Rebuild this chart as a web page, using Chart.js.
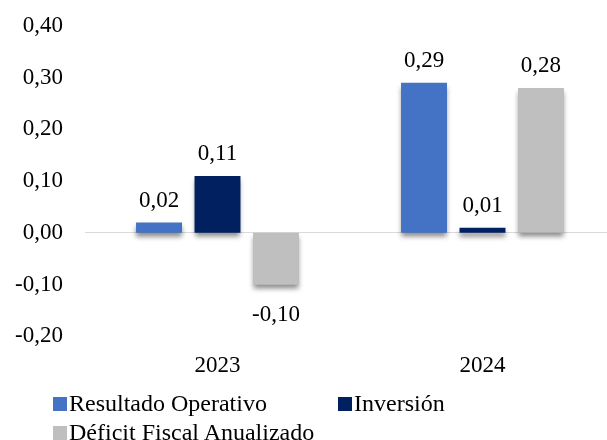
<!DOCTYPE html>
<html>
<head>
<meta charset="utf-8">
<script src="https://cdn.jsdelivr.net/npm/chart.js@4/dist/chart.umd.min.js"></script>
<style>
  html, body { margin:0; padding:0; background:#fff; overflow:hidden; width:607px; height:440px; }
  #wrap { position:relative; width:615px; height:440px; overflow:hidden; }
  canvas { display:block; position:absolute; left:0; top:-10px; }
  .leg { position:absolute; font-family:"Liberation Serif","Times New Roman",serif; font-size:24px; color:#000; white-space:nowrap; line-height:26px; }
  .leg .box { display:inline-block; width:14px; height:14px; margin-right:2px; vertical-align:0px; }
</style>
</head>
<body>
<div id="wrap">
  <canvas id="c" width="615" height="450"></canvas>
  <div class="leg" style="left:53px; top:390px;"><span class="box" style="background:#4472C4"></span>Resultado Operativo</div>
  <div class="leg" style="left:338px; top:390px;"><span class="box" style="background:#002060"></span>Inversión</div>
  <div class="leg" style="left:53px; top:419px;"><span class="box" style="background:#BFBFBF"></span>Déficit Fiscal Anualizado</div>
</div>
<script>
const categories = ["2023", "2024"];
const resultadoOperativo = [0.02, 0.29];
const inversion = [0.11, 0.01];
const deficitFiscal = [-0.10, 0.28];
const seriesNames = ["Resultado Operativo", "Inversión", "Déficit Fiscal Anualizado"];
const seriesColors = ["#4472C4", "#002060", "#BFBFBF"];

const FONT = '"Liberation Serif", "Times New Roman", serif';
const fmt = v => v.toFixed(2).replace('.', ',');

const shadowPlugin = {
  id: 'shadowPlugin',
  beforeDatasetsDraw(chart) {
    const ctx = chart.ctx;
    ctx.save();
    ctx.shadowColor = 'rgba(0,0,0,0.45)';
    ctx.shadowBlur = 5;
    ctx.shadowOffsetX = 0;
    ctx.shadowOffsetY = 4;
  },
  afterDatasetsDraw(chart) {
    const ctx = chart.ctx;
    ctx.restore();
    ctx.save();
    ctx.font = '23px ' + FONT;
    ctx.fillStyle = '#000';
    ctx.textAlign = 'center';
    ctx.textBaseline = 'alphabetic';
    chart.data.datasets.forEach((ds, di) => {
      const meta = chart.getDatasetMeta(di);
      meta.data.forEach((bar, i) => {
        const v = ds.data[i];
        if (v >= 0) {
          ctx.fillText(fmt(v), bar.x, bar.y - 16);
        } else {
          ctx.fillText(fmt(v), bar.x, bar.y + 36);
        }
      });
    });
    ctx.restore();
  }
};

new Chart(document.getElementById('c'), {
  type: 'bar',
  data: {
    labels: categories,
    datasets: [
      { label: seriesNames[0], data: resultadoOperativo, backgroundColor: seriesColors[0] },
      { label: seriesNames[1], data: inversion, backgroundColor: seriesColors[1] },
      { label: seriesNames[2], data: deficitFiscal, backgroundColor: seriesColors[2] }
    ]
  },
  options: {
    responsive: false,
    animation: false,
    devicePixelRatio: 1,
    layout: { padding: { left: 0, right: 0, top: 3, bottom: 44 } },
    datasets: { bar: { categoryPercentage: 0.662, barPercentage: 0.786 } },
    plugins: {
      legend: { display: false },
      tooltip: { enabled: false }
    },
    scales: {
      x: {
        grid: { display: false, drawTicks: false },
        border: { display: false },
        ticks: { font: { family: FONT, size: 23 }, color: '#000', padding: 16 }
      },
      y: {
        min: -0.2,
        max: 0.4,
        afterFit(scale) { scale.width = 85; },
        grid: {
          drawTicks: false,
          lineWidth: 1,
          color: ctx => (ctx.tick && Math.abs(ctx.tick.value) < 1e-9) ? '#D9D9D9' : 'rgba(0,0,0,0)'
        },
        border: { display: false },
        ticks: {
          stepSize: 0.1,
          padding: 22,
          color: '#000',
          font: { family: FONT, size: 23 },
          callback: v => fmt(v)
        }
      }
    }
  },
  plugins: [shadowPlugin]
});
</script>
</body>
</html>
